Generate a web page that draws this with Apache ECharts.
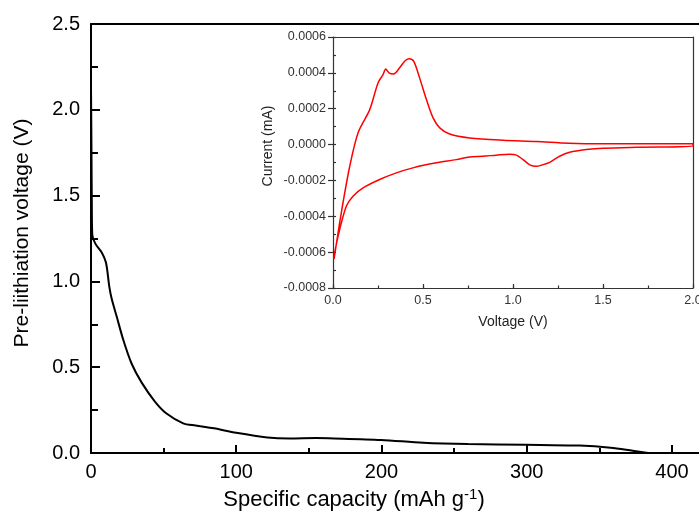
<!DOCTYPE html>
<html>
<head>
<meta charset="utf-8">
<script src="https://cdn.jsdelivr.net/npm/echarts@6/dist/echarts.min.js"></script>
<style>
html,body{margin:0;padding:0;background:#fff;}
#c{width:699px;height:513px;}
</style>
</head>
<body>
<div id="c"></div>
<script>
// Main curve: pre-lithiation voltage vs specific capacity
var capacity = [0, 0.3, 0.6, 0.9, 3, 7.3, 10.3, 12.6, 14.2, 17.7, 22.2, 28, 34.9, 44, 52, 63.5, 72, 84.6, 100, 121.4, 136.7, 155, 167.4, 199.7, 228.8, 259.5, 299.4, 336.3, 357.7, 373, 383.7];
var voltage  = [2.13, 1.8, 1.4, 1.27, 1.22, 1.17, 1.11, 0.97, 0.90, 0.795, 0.66, 0.52, 0.41, 0.30, 0.23, 0.173, 0.16, 0.144, 0.118, 0.091, 0.085, 0.087, 0.085, 0.076, 0.06, 0.052, 0.048, 0.043, 0.031, 0.013, 0];

// Inset CV curve (voltage in V, current in mA)
var cvVoltage = [0.006, 0.046, 0.093, 0.139, 0.204, 0.25, 0.278, 0.293, 0.311, 0.337, 0.37, 0.398, 0.422, 0.448, 0.481, 0.519, 0.556, 0.593, 0.648, 0.759, 0.944, 1.13, 1.31, 1.5, 2.0,
                 2.0, 1.685, 1.5, 1.407, 1.315, 1.259, 1.204, 1.157, 1.13, 1.093, 1.056, 1.019, 0.981, 0.907, 0.833, 0.759, 0.685, 0.574, 0.444, 0.352, 0.259, 0.167, 0.111, 0.074, 0.037, 0.009, 0.006];
var cvCurrent = [-0.000638, -0.000381, -0.000121, 0.000065, 0.000195, 0.000344, 0.000390, 0.000422, 0.000400, 0.000394, 0.000428, 0.000465, 0.000478, 0.000465, 0.000372, 0.000251, 0.000149, 0.000093, 0.000059, 0.000037, 0.000024, 0.000017, 0.000007, 0.000004, 0.000004,
                 -0.000009, -0.000015, -0.000020, -0.000028, -0.000043, -0.000065, -0.000099, -0.000115, -0.000121, -0.000113, -0.000084, -0.000059, -0.000054, -0.000059, -0.000065, -0.000069, -0.000084, -0.000102, -0.000130, -0.000158, -0.000195, -0.000242, -0.000288, -0.000344, -0.000474, -0.000604, -0.000638];

var xTickLabels = ['0', '100', '200', '300', '400'];
var yTickLabels = ['0.0', '0.5', '1.0', '1.5', '2.0', '2.5'];

var mainData = capacity.map(function (c, i) { return [c, voltage[i]]; });
var cvData = cvVoltage.map(function (v, i) { return [v, cvCurrent[i]]; });

var FONT = '"Liberation Sans", Arial, sans-serif';
var chart = echarts.init(document.getElementById('c'), null, {renderer: 'canvas'});

chart.setOption({
  animation: false,
  backgroundColor: '#fff',
  grid: [
    {left: 91, top: 24, width: 610, height: 429, show: false, containLabel: false, outerBoundsMode: 'none'},
    {left: 333, top: 37, width: 360, height: 251, show: true, backgroundColor: '#fff', borderWidth: 0, containLabel: false, outerBoundsMode: 'none'}
  ],
  xAxis: [
    { // 0 main bottom
      gridIndex: 0, type: 'value', position: 'bottom', min: 0, max: 420, interval: 100,
      axisLine: {show: true, onZero: false, lineStyle: {color: '#000', width: 2}},
      axisTick: {show: true, inside: true, length: 8, lineStyle: {color: '#000', width: 2}},
      axisLabel: {show: true, color: '#000', fontSize: 20, fontFamily: FONT, margin: 9, showMaxLabel: false,
        formatter: function (v) { var s = String(Math.round(v)); return xTickLabels.indexOf(s) >= 0 ? s : ''; }},
      splitLine: {show: false}
    },
    { // 1 main top line
      gridIndex: 0, type: 'value', position: 'top', min: 0, max: 420,
      axisLine: {show: true, onZero: false, lineStyle: {color: '#000', width: 2}},
      axisTick: {show: false}, axisLabel: {show: false}, splitLine: {show: false}
    },
    { // 2 main minor ticks
      gridIndex: 0, type: 'value', position: 'bottom', min: 0, max: 420, interval: 50,
      axisLine: {show: false, onZero: false}, axisLabel: {show: false}, splitLine: {show: false},
      axisTick: {show: true, inside: true, length: 5, lineStyle: {color: '#000', width: 2}}
    },
    { // 3 inset bottom
      gridIndex: 1, type: 'value', position: 'bottom', min: 0, max: 2, interval: 0.5,
      name: 'Voltage (V)', nameLocation: 'middle', nameGap: 27,
      nameTextStyle: {color: '#222', fontSize: 14, fontFamily: FONT},
      axisLine: {show: true, onZero: false, lineStyle: {color: '#333', width: 1.2}},
      axisTick: {show: true, inside: true, length: 4, lineStyle: {color: '#333', width: 1.2}},
      axisLabel: {color: '#333', fontSize: 12.5, fontFamily: FONT, margin: 6,
        formatter: function (v) { return v.toFixed(1); }},
      splitLine: {show: false}
    },
    { // 4 inset top line
      gridIndex: 1, type: 'value', position: 'top', min: 0, max: 2,
      axisLine: {show: true, onZero: false, lineStyle: {color: '#333', width: 1.2}},
      axisTick: {show: false}, axisLabel: {show: false}, splitLine: {show: false}
    },
    { // 5 inset minor ticks
      gridIndex: 1, type: 'value', position: 'bottom', min: 0, max: 2, interval: 0.25,
      axisLine: {show: false, onZero: false}, axisLabel: {show: false}, splitLine: {show: false},
      axisTick: {show: true, inside: true, length: 2.5, lineStyle: {color: '#333', width: 1.2}}
    }
  ],
  yAxis: [
    { // 0 main left
      gridIndex: 0, type: 'value', position: 'left', min: 0, max: 2.5, interval: 0.5,
      axisLine: {show: true, onZero: false, lineStyle: {color: '#000', width: 2}},
      axisTick: {show: true, inside: true, length: 9, lineStyle: {color: '#000', width: 2}},
      axisLabel: {color: '#000', fontSize: 20, fontFamily: FONT, margin: 11,
        formatter: function (v) { var s = v.toFixed(1); return yTickLabels.indexOf(s) >= 0 ? s : ''; }},
      splitLine: {show: false}
    },
    { // 1 main minor ticks
      gridIndex: 0, type: 'value', position: 'left', min: 0, max: 2.5, interval: 0.25,
      axisLine: {show: false, onZero: false}, axisLabel: {show: false}, splitLine: {show: false},
      axisTick: {show: true, inside: true, length: 7, lineStyle: {color: '#000', width: 2}}
    },
    { // 2 inset left
      gridIndex: 1, type: 'value', position: 'left', min: -0.0008, max: 0.0006, interval: 0.0002,
      axisLine: {show: true, onZero: false, lineStyle: {color: '#333', width: 1.2}},
      axisTick: {show: true, inside: false, length: 5, lineStyle: {color: '#333', width: 1.2}},
      axisLabel: {color: '#333', fontSize: 12.5, fontFamily: FONT, margin: 7,
        formatter: function (v) { if (Math.abs(v) < 1e-9) return '0.0000'; return v.toFixed(4); }},
      splitLine: {show: false}
    },
    { // 3 inset right line
      gridIndex: 1, type: 'value', position: 'right', min: -0.0008, max: 0.0006,
      axisLine: {show: true, onZero: false, lineStyle: {color: '#333', width: 1.2}},
      axisTick: {show: false}, axisLabel: {show: false}, splitLine: {show: false}
    },
    { // 4 inset minor ticks
      gridIndex: 1, type: 'value', position: 'left', min: -0.0008, max: 0.0006, interval: 0.0001,
      axisLine: {show: false, onZero: false}, axisLabel: {show: false}, splitLine: {show: false},
      axisTick: {show: true, inside: true, length: 3, lineStyle: {color: '#333', width: 1.2}}
    }
  ],
  series: [
    {
      type: 'line', xAxisIndex: 0, yAxisIndex: 0, data: mainData,
      showSymbol: false, smooth: 0.3,
      lineStyle: {color: '#000', width: 2}
    },
    {
      type: 'line', xAxisIndex: 3, yAxisIndex: 2, data: cvData,
      showSymbol: false, smooth: 0.3,
      lineStyle: {color: '#ff0000', width: 1.5}
    }
  ],
  graphic: [
    {
      type: 'text', x: 22, y: 233, rotation: Math.PI / 2,
      style: {text: 'Pre-liithiation voltage (V)', fill: '#000', font: '21px ' + FONT,
        align: 'center', verticalAlign: 'middle'}
    },
    {
      type: 'text', x: 354, y: 500,
      style: {text: 'Specific capacity (mAh g{sup|-1})', fill: '#000', font: '22px ' + FONT,
        align: 'center', verticalAlign: 'middle',
        rich: {sup: {fontSize: 15, fontFamily: FONT, verticalAlign: 'top', padding: [0, 0, 10, 0]}}}
    },
    {
      type: 'text', x: 268, y: 146, rotation: Math.PI / 2,
      style: {text: 'Current (mA)', fill: '#222', font: '14px ' + FONT,
        align: 'center', verticalAlign: 'middle'}
    }
  ]
});
</script>
</body>
</html>
